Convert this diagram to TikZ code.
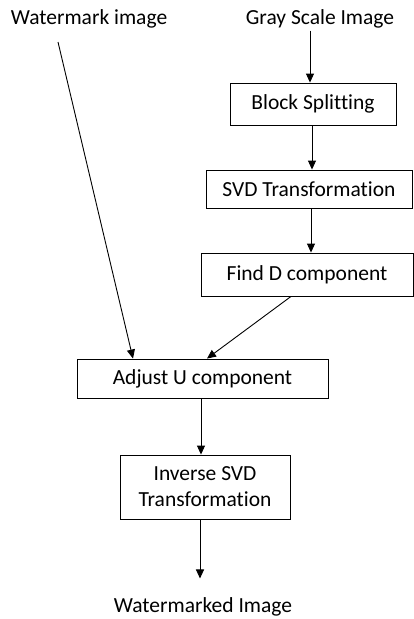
\documentclass[tikz,border=0pt]{standalone}
\usepackage{fontspec}
\setmainfont[Ligatures=NoCommon]{Carlito}
\usetikzlibrary{arrows.meta}
\tikzset{
  stage/.style={rectangle, draw=black, fill=none, line width=0.9pt, align=center, inner sep=2pt},
  label/.style={inner sep=2pt},
  arr/.style={-{Triangle[length=9pt,width=8pt]}, line width=0.9pt}
}
\begin{document}
\begin{tikzpicture}[x=1pt,y=-1pt,font=\fontsize{21.5}{26}\selectfont]
\useasboundingbox (0,0) rectangle (414,619);
\node [label] (wm) at (89,19) {Watermark image};
\node [label] (gray) at (320,19) {Gray Scale Image};
\node [stage, minimum width=166pt, minimum height=42pt] (block) at (313,104) {Block Splitting};
\node [stage, minimum width=206pt, minimum height=38pt] (svd) at (309,189) {SVD Transformation};
\node [stage, minimum width=212pt, minimum height=43pt] (findd) at (307,274.5) {Find D component};
\node [stage, minimum width=251pt, minimum height=39pt] (adjust) at (202.5,378.5) {Adjust U component};
\node [stage, minimum width=170pt, minimum height=64pt] (inv) at (205,487) {Inverse SVD\\Transformation};
\node [label] (out) at (203,607) {Watermarked Image};
\coordinate (wmend) at (58,42);
\draw [arr] (gray.south -| 310,0) -- (310,0 |- block.north);
\draw [arr] (312,0 |- block.south) -- (312,0 |- svd.north);
\draw [arr] (311,0 |- svd.south) -- (311,0 |- findd.north);
\draw [arr] ([xshift=-16pt]findd.south) -- ([xshift=4.5pt]adjust.north);
\draw [arr] (wmend) -- ([xshift=-69.5pt]adjust.north);
\draw [arr] (201,0 |- adjust.south) -- (201,0 |- inv.north);
\draw [arr, shorten >=17pt] (200,0 |- inv.south) -- (200,0 |- out.north);
\end{tikzpicture}
\end{document}
